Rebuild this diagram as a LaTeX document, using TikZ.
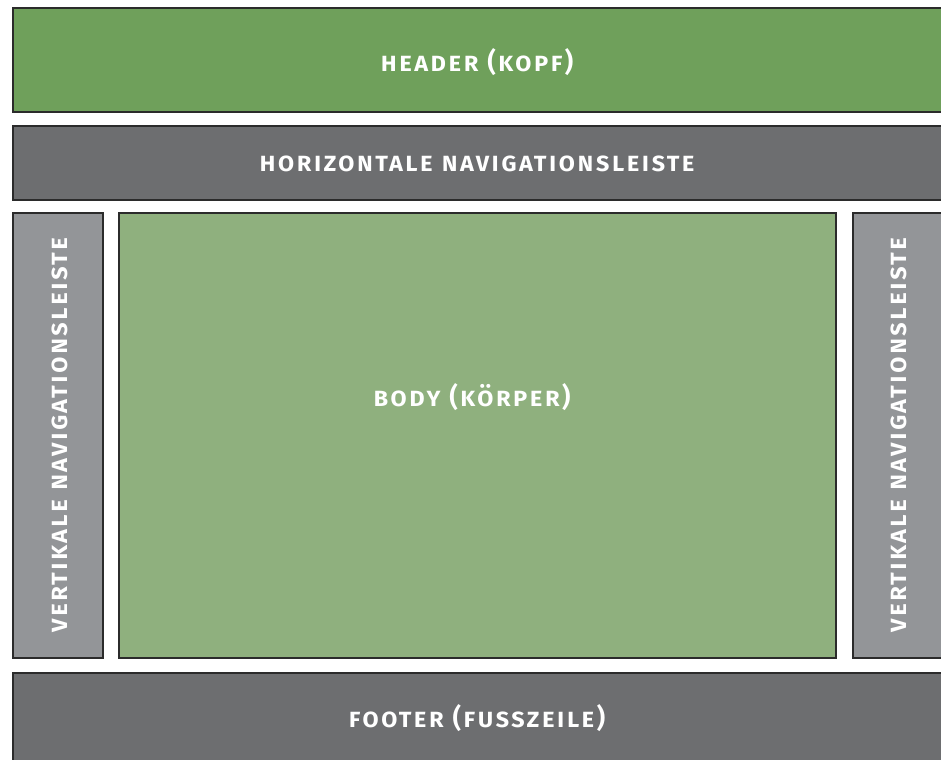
\documentclass[tikz,border=0pt]{standalone}
\usepackage{fontspec}
\setmainfont{Fira Sans}
\newfontfamily\labelfont[Letters=SmallCaps,LetterSpace=8,BoldFont={Fira Sans SemiBold}]{Fira Sans}
\definecolor{headgreen}{HTML}{6FA05B}
\definecolor{bodygreen}{HTML}{8FB07E}
\definecolor{darkbar}{HTML}{6D6E70}
\definecolor{sidebar}{HTML}{939598}
\definecolor{edge}{HTML}{2B2B2B}
\begin{document}
\begin{tikzpicture}[x=1bp,y=-1bp,
  panel/.style={draw=edge,line width=1.3bp},
  lbl/.style={text=white,font=\labelfont\bfseries\fontsize{27}{30}\selectfont,inner sep=0pt}]
\useasboundingbox (0,0) rectangle (941,760);
\begin{scope}
\clip (0,0) rectangle (941,760);
% page regions
\path[panel,fill=headgreen] (13,8) rectangle (945,112);
\path[panel,fill=darkbar] (13,126) rectangle (945,200);
\path[panel,fill=sidebar] (13,213) rectangle (103,658);
\path[panel,fill=bodygreen] (119,213) rectangle (836,658);
\path[panel,fill=sidebar] (853,213) rectangle (945,658);
\path[panel,fill=darkbar] (13,673) rectangle (945,765);
\end{scope}
% labels
\node[lbl] (head) at (477,62) {header (kopf)};
\node[lbl] (hnav) at (477,164) {horizontale navigationsleiste};
\node[lbl] (body) at (472,397) {body (körper)};
\node[lbl,rotate=90] (vnavl) at (60,435) {vertikale navigationsleiste};
\node[lbl,rotate=90] (vnavr) at (899,435) {vertikale navigationsleiste};
\node[lbl] (foot) at (477,718) {footer (fusszeile)};
\end{tikzpicture}
\end{document}
